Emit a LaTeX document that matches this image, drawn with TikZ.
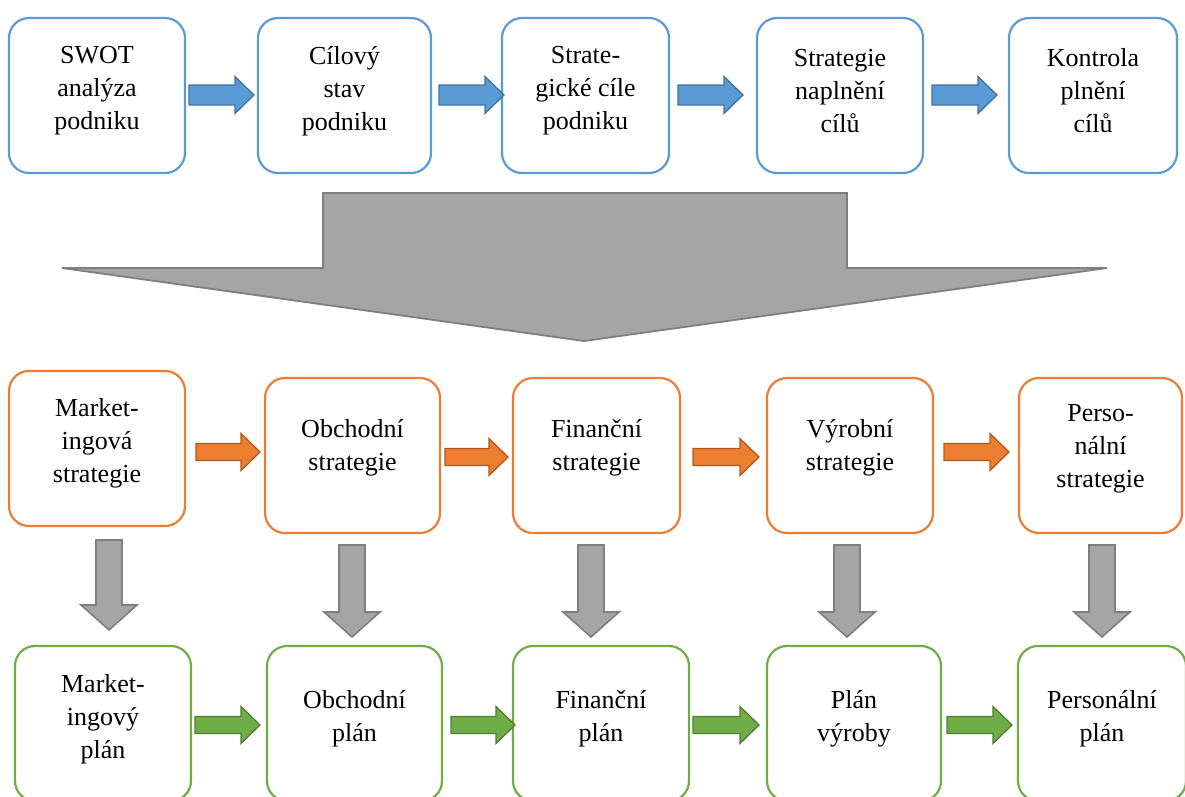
\documentclass[tikz,border=0pt]{standalone}
\usepackage{fontspec}
\setmainfont{Liberation Serif}
\definecolor{bfill}{HTML}{5B9BD5}
\definecolor{bline}{HTML}{41719C}
\definecolor{ofill}{HTML}{ED7D31}
\definecolor{oline}{HTML}{AE5A21}
\definecolor{gfill}{HTML}{70AD47}
\definecolor{gline}{HTML}{507E32}
\definecolor{afill}{HTML}{A5A5A5}
\definecolor{aline}{HTML}{7F7F7F}
\tikzset{
  boxbase/.style={rectangle, rounded corners=20pt, line width=2.2pt, fill=white, inner sep=0pt},
  bluebox/.style={boxbase, draw=bfill},
  orangebox/.style={boxbase, draw=ofill},
  greenbox/.style={boxbase, draw=gfill},
  lbl/.style={align=center, inner sep=0pt, font=\fontsize{26}{33}\selectfont},
  bluearr/.style={fill=bfill, draw=bline, line width=1.3pt},
  orangearr/.style={fill=ofill, draw=oline, line width=1.3pt},
  greenarr/.style={fill=gfill, draw=gline, line width=1.3pt},
  grayarr/.style={fill=afill, draw=aline, line width=1.6pt},
}
% #1 name, #2 style, #3 x0, #4 y0, #5 x1, #6 y1
\newcommand{\mkbox}[6]{\node[#2, minimum width={#5-#3}, minimum height={#6-#4}] (#1) at ({(#3+#5)/2},{(#4+#6)/2}) {};}
% #1 style, #2 x0, #3 x1, #4 y, #5 shaft half height
\newcommand{\harr}[5]{\draw[#1] (#2,{#4-#5}) -- ({#3-19},{#4-#5}) -- ({#3-19},{#4-18.5}) -- (#3,#4) -- ({#3-19},{#4+18.5}) -- ({#3-19},{#4+#5}) -- (#2,{#4+#5}) -- cycle;}
% #1 center x, #2 top y, #3 tip y
\newcommand{\varr}[3]{\draw[grayarr] ({#1-13},#2) -- ({#1+13},#2) -- ({#1+13},{#3-25}) -- ({#1+28},{#3-25}) -- (#1,#3) -- ({#1-28},{#3-25}) -- ({#1-13},{#3-25}) -- cycle;}
\begin{document}
\begin{tikzpicture}[x=1pt, y=-1pt]
\useasboundingbox (0,0) rectangle (1185,796);
\clip (0,0) rectangle (1185,796);
% top row
\mkbox{b1}{bluebox}{9}{18}{185}{173}
\mkbox{b2}{bluebox}{258}{18}{431}{173}
\mkbox{b3}{bluebox}{502}{18}{669}{173}
\mkbox{b4}{bluebox}{757}{18}{923}{173}
\mkbox{b5}{bluebox}{1009}{18}{1177}{173}
\node[lbl] (tb1) at ([yshift=4.5pt]b1.center) {SWOT\\analýza\\podniku};
\node[lbl] (tb2) at ([yshift=4.5pt]b2.center) {Cílový\\stav\\podniku};
\node[lbl] (tb3) at ([yshift=4.5pt]b3.center) {Strate-\\gické cíle\\podniku};
\node[lbl] (tb4) at ([yshift=4.5pt]b4.center) {Strategie\\naplnění\\cílů};
\node[lbl] (tb5) at ([yshift=4.5pt]b5.center) {Kontrola\\plnění\\cílů};
\harr{bluearr}{189}{254}{95}{10}
\harr{bluearr}{439}{504}{95}{10}
\harr{bluearr}{678}{743}{95}{10}
\harr{bluearr}{932}{997}{95}{10}
% big arrow
\draw[fill=afill, draw=aline, line width=1.8pt, line join=miter]
  (323,193) -- (847,193) -- (847,268) -- (1107,268) -- (584,341) -- (62,268) -- (323,268) -- cycle;
% orange row
\mkbox{o1}{orangebox}{9}{371}{185}{526}
\mkbox{o2}{orangebox}{265}{378}{440}{533}
\mkbox{o3}{orangebox}{513}{378}{680}{533}
\mkbox{o4}{orangebox}{767}{378}{933}{533}
\mkbox{o5}{orangebox}{1019}{378}{1182}{533}
\node[lbl] (to1) at ([yshift=5pt]o1.center) {Market-\\ingová\\strategie};
\node[lbl] (to2) at ([yshift=8pt]o2.center) {Obchodní\\strategie};
\node[lbl] (to3) at ([yshift=8pt]o3.center) {Finanční\\strategie};
\node[lbl] (to4) at ([yshift=8pt]o4.center) {Výrobní\\strategie};
\node[lbl] (to5) at ([yshift=7pt]o5.center) {Perso-\\nální\\strategie};
\harr{orangearr}{196}{260}{452}{8.5}
\harr{orangearr}{445}{508}{457}{8.5}
\harr{orangearr}{693}{759}{457}{8.5}
\harr{orangearr}{944}{1009}{452}{8.5}
% gray down arrows
\varr{109}{540}{630}
\varr{352}{545}{637}
\varr{591}{545}{637}
\varr{847}{545}{637}
\varr{1102}{545}{637}
% green row
\mkbox{g1}{greenbox}{15}{646}{191}{801}
\mkbox{g2}{greenbox}{267}{646}{442}{801}
\mkbox{g3}{greenbox}{513}{646}{689}{801}
\mkbox{g4}{greenbox}{767}{646}{941}{801}
\mkbox{g5}{greenbox}{1018}{646}{1186}{801}
\node[lbl] (tg1) at ([yshift=4.5pt]g1.center) {Market-\\ingový\\plán};
\node[lbl] (tg2) at ([yshift=4.5pt]g2.center) {Obchodní\\plán};
\node[lbl] (tg3) at ([yshift=4.5pt]g3.center) {Finanční\\plán};
\node[lbl] (tg4) at ([yshift=4.5pt]g4.center) {Plán\\výroby};
\node[lbl] (tg5) at ([yshift=4.5pt]g5.center) {Personální\\plán};
\harr{greenarr}{195}{260}{725}{8.5}
\harr{greenarr}{451}{515}{725}{8.5}
\harr{greenarr}{693}{759}{725}{8.5}
\harr{greenarr}{947}{1012}{725}{8.5}
\end{tikzpicture}
\end{document}
